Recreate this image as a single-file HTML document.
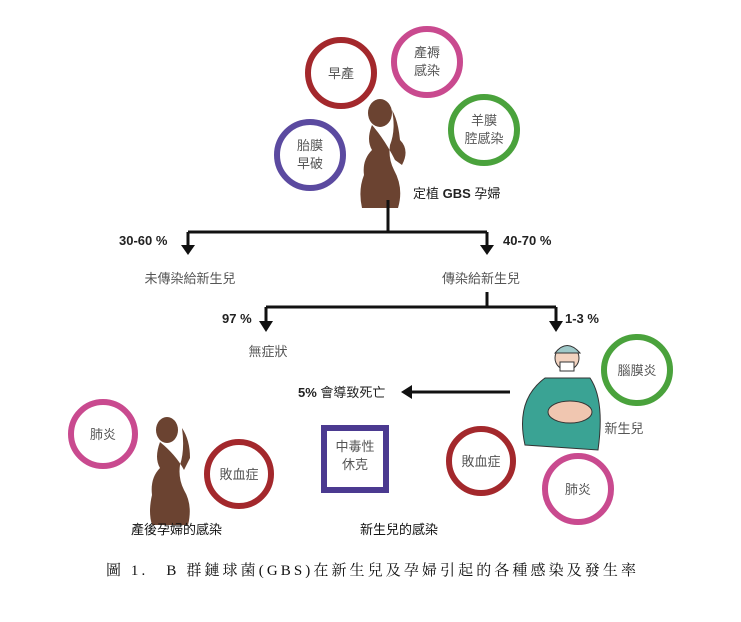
<!DOCTYPE html>
<html><head><meta charset="utf-8"><style>
html,body{margin:0;padding:0;background:#fff;}
svg text{font-family:"Liberation Sans","Noto Sans CJK TC",sans-serif;}
</style></head><body>
<svg width="741" height="617" viewBox="0 0 741 617" xmlns="http://www.w3.org/2000/svg">
<rect width="741" height="617" fill="#fff"/>
<g fill="none" stroke-width="6">
<circle cx="341" cy="73" r="33" stroke="#a3282c"/>
<circle cx="427" cy="62" r="33" stroke="#c94a8f"/>
<circle cx="484" cy="130" r="33" stroke="#4aa23c"/>
<circle cx="310" cy="155" r="33" stroke="#5b4aa0"/>
<circle cx="637" cy="370" r="33" stroke="#4aa23c"/>
<circle cx="481" cy="461" r="32" stroke="#a3282c"/>
<circle cx="578" cy="489" r="33" stroke="#c94a8f"/>
<circle cx="103" cy="434" r="32" stroke="#c94a8f"/>
<circle cx="239" cy="474" r="32" stroke="#a3282c"/>
<rect x="324" y="428" width="62" height="62" stroke="#4b3a90"/>
</g>
<g fill="#6b4331">
<ellipse cx="380" cy="113" rx="12" ry="14"/>
<path d="M372 125 Q366 140 372 150 Q362 160 364 175 Q358 190 362 208 L398 208 Q404 188 394 170 Q388 158 390 145 Q396 130 392 110 Q398 120 400 140 Q410 150 402 165 L395 160 Q385 140 372 125Z"/>
</g>
<g fill="#6b4331">
<ellipse cx="167" cy="430" rx="11" ry="13"/>
<path d="M160 442 Q154 458 160 468 Q150 478 152 495 Q148 512 152 525 L188 525 Q193 505 184 490 Q178 478 180 465 Q185 450 182 428 Q190 440 190 458 L184 470 Q176 455 160 442Z"/>
</g>
<g>
<path d="M525 445 Q515 400 545 378 L590 378 Q605 400 598 450 Z" fill="#3aa394" stroke="#333" stroke-width="1"/>
<circle cx="567" cy="358" r="12" fill="#f2d3c0" stroke="#333" stroke-width="1"/>
<path d="M555 353 Q567 338 580 353 Z" fill="#9fc9c9" stroke="#333" stroke-width="1"/>
<rect x="560" y="362" width="14" height="9" fill="#fff" stroke="#333" stroke-width="1"/>
<ellipse cx="570" cy="412" rx="22" ry="11" fill="#f0c6b0" stroke="#333" stroke-width="1"/>
</g>
<g stroke="#111" stroke-width="3" fill="none">
<path d="M388 200 V232 M188 232 H487 M188 232 V246 M487 232 V246"/>
<path d="M487 292 V307 M266 307 H556 M266 307 V322 M556 307 V322"/>
<path d="M510 392 H412"/>
</g>
<g fill="#111">
<path d="M181 245 L195 245 L188 255Z"/>
<path d="M480 245 L494 245 L487 255Z"/>
<path d="M259 321 L273 321 L266 332Z"/>
<path d="M549 321 L563 321 L556 332Z"/>
<path d="M412 385 L412 399 L401 392Z"/>
</g>
<g fill="#555" font-size="13" text-anchor="middle">
<text x="341" y="78">早產</text>
<text x="427" y="57">產褥</text><text x="427" y="75">感染</text>
<text x="484" y="125">羊膜</text><text x="484" y="143">腔感染</text>
<text x="310" y="150">胎膜</text><text x="310" y="168">早破</text>
<text x="637" y="375">腦膜炎</text>
<text x="481" y="466">敗血症</text>
<text x="578" y="494">肺炎</text>
<text x="103" y="439">肺炎</text>
<text x="239" y="479">敗血症</text>
<text x="355" y="451">中毒性</text><text x="355" y="469">休克</text>
<text x="190" y="283">未傳染給新生兒</text>
<text x="481" y="283">傳染給新生兒</text>
<text x="268" y="356">無症狀</text>
<text x="624" y="433">新生兒</text>
</g>
<g font-size="13" fill="#222">
<text x="413" y="198">定植 <tspan font-weight="bold">GBS</tspan> 孕婦</text>
<text x="119" y="245" font-weight="bold">30-60 %</text>
<text x="503" y="245" font-weight="bold">40-70 %</text>
<text x="222" y="323" font-weight="bold">97 %</text>
<text x="565" y="323" font-weight="bold">1-3 %</text>
<text x="298" y="397"><tspan font-weight="bold">5%</tspan> 會導致死亡</text>
<text x="131" y="534" fill="#111">產後孕婦的感染</text>
<text x="360" y="534" fill="#111">新生兒的感染</text>
</g>
<text x="106" y="575" font-size="15" fill="#111" textLength="530" lengthAdjust="spacing" style="font-family:'Liberation Serif','Noto Serif CJK SC',serif">圖 1.　B 群鏈球菌(GBS)在新生兒及孕婦引起的各種感染及發生率</text>
</svg>
</body></html>
